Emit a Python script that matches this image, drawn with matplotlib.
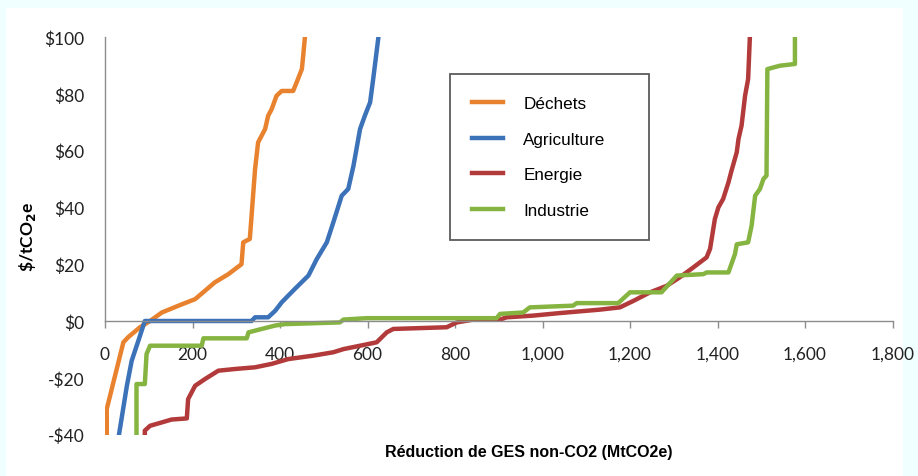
import matplotlib
matplotlib.use("Agg")
import matplotlib.pyplot as plt
from matplotlib.patches import Rectangle

# cost curves (x: MtCO2e, y: $/tCO2e)
dechets_x = [4, 4, 42, 53, 80, 103, 130, 168, 206, 229, 251, 282, 312, 316, 331, 335, 343, 350,
             366, 373, 381, 392, 404, 430, 438, 450, 453, 457]
dechets_y = [-40, -31, -7.5, -5.7, -2.2, 0, 3, 5.4, 7.7, 10.7, 13.6, 16.5, 20, 27.7, 28.9, 37, 53.5, 62.9,
             67.6, 72.3, 74.6, 79.3, 81, 81, 84, 88.7, 93.4, 100]

agri_x = [32, 50, 61, 80, 91, 335, 343, 373, 389, 404, 434, 465, 484, 507, 522, 541, 556, 568,
          583, 594, 606, 613, 625]
agri_y = [-40, -22.8, -14, -5.2, 0, 0, 1.3, 1.3, 3.6, 6.6, 11.3, 16, 21.8, 27.7, 34.8, 44.1, 46.5, 54.7,
          67.6, 72.3, 77, 85.2, 100]

energie_x = [91, 91, 103, 130, 152, 187, 190, 206, 229, 259, 297, 343, 381, 419, 476, 522, 545, 621,
             644, 659, 781, 804, 842, 903, 918, 979, 1040, 1131, 1177, 1208, 1246, 1284, 1314, 1345,
             1375, 1383, 1394, 1402, 1413, 1425, 1432, 1444, 1448, 1455, 1463, 1470, 1474]
energie_y = [-40, -38.6, -36.9, -35.7, -34.7, -34.3, -27.5, -22.8, -20.4, -17.5, -16.9, -16.3, -15.1, -13.4,
             -12.2, -11, -9.9, -7.5, -4, -2.8, -2.2, -0.5, 0.5, 0.5, 1.3, 1.9, 2.8, 4, 4.8, 7.1, 10.1,
             12.4, 15.4, 18.9, 22.4, 25.4, 35.9, 40, 43, 48.8, 52.9, 59.4, 64.1, 68.8, 79.3, 85.2, 100]

industrie_x = [72, 72, 91, 95, 103, 221, 225, 324, 328, 358, 389, 411, 537, 545, 598, 895, 903, 956,
               971, 1070, 1078, 1173, 1200, 1272, 1307, 1368, 1375, 1425, 1440, 1444, 1470, 1478,
               1486, 1497, 1505, 1512, 1514, 1543, 1577, 1577]
industrie_y = [-40, -22.2, -22.2, -11.6, -8.7, -8.7, -6.1, -6.1, -4, -2.8, -1.6, -1.1, -0.5, 0.5, 1, 1,
               2.5, 3, 4.8, 5.4, 6.3, 6.3, 10.1, 10.1, 16, 16.5, 17.1, 17.1, 23.6, 27, 27.7, 33.6,
               44.1, 46.5, 50, 51.2, 88.7, 89.9, 90.5, 100]

x_ticks = [0, 200, 400, 600, 800, 1000, 1200, 1400, 1600, 1800]
x_labels = ["0", "200", "400", "600", "800", "1,000", "1,200", "1,400", "1,600", "1,800"]
y_ticks = [-40, -20, 0, 20, 40, 60, 80, 100]
y_labels = ["-$40", "-$20", "$0", "$20", "$40", "$60", "$80", "$100"]

fig = plt.figure(figsize=(9.18, 4.77), dpi=100, facecolor="#F0FFFF")
fig.patches.append(Rectangle((6 / 918, 0), 897 / 918, 468 / 477, transform=fig.transFigure,
                             facecolor="white", edgecolor="none", zorder=-10))
ax = fig.add_axes([105 / 918, 1 - 435.6 / 477, 787.5 / 918, 397.6 / 477])
ax.set_facecolor("none")
ax.set_zorder(1)

ax.plot(dechets_x, dechets_y, color="#E8822E", lw=3.2, label="Déchets")
ax.plot(agri_x, agri_y, color="#3C72B8", lw=3.2, label="Agriculture")
ax.plot(energie_x, energie_y, color="#B23A3A", lw=3.2, label="Energie")
ax.plot(industrie_x, industrie_y, color="#86B441", lw=3.2, label="Industrie")

ax.set_xlim(0, 1800)
ax.set_ylim(-40, 100)

for s in ["top", "right"]:
    ax.spines[s].set_visible(False)
ax.spines["bottom"].set_position(("data", 0))
ax.spines["left"].set_bounds(0, 100)
for s in ["bottom", "left"]:
    ax.spines[s].set_color("#8C8C8C")
    ax.spines[s].set_linewidth(1.0)

ax.set_xticks(x_ticks)
ax.set_xticklabels(x_labels, family="Lato", fontsize=12.5, color="#222222")
ax.set_yticks(y_ticks)
ax.set_yticklabels(y_labels, family="Lato", fontsize=12.5, color="#222222")
ax.tick_params(axis="x", direction="out", length=5, width=1, color="#8C8C8C", pad=13)
ax.tick_params(axis="y", length=0, pad=15)

ax.text(-0.098, 0.5, r"\$/tCO$_{\mathbf{2}}$e", transform=ax.transAxes, rotation=90,
        ha="center", va="center", fontsize=12.5, fontweight="bold", family="Lato")
fig.text(529 / 918, 1 - 453 / 477, "Réduction de GES non-CO2 (MtCO2e)", ha="center", va="center",
         fontsize=11.5, fontweight="bold", family="Liberation Sans")

# legend box spans x 450..649 px, top at y 75 px
lx0 = (450 - 105) / 787.5
lw = (649 - 450) / 787.5
ltop = (435.6 - 75) / 397.6
leg = ax.legend(loc="upper left", bbox_to_anchor=(lx0, ltop - 0.4, lw, 0.4), mode="expand",
                prop={"family": "Liberation Sans", "size": 12.3}, frameon=True, fancybox=False,
                borderpad=1.3, labelspacing=1.2, handlelength=1.8, handletextpad=1.2,
                borderaxespad=0)
leg.get_frame().set_edgecolor("#333333")
leg.get_frame().set_linewidth(1.3)

fig.savefig("out.png", dpi=100, facecolor=fig.get_facecolor())
